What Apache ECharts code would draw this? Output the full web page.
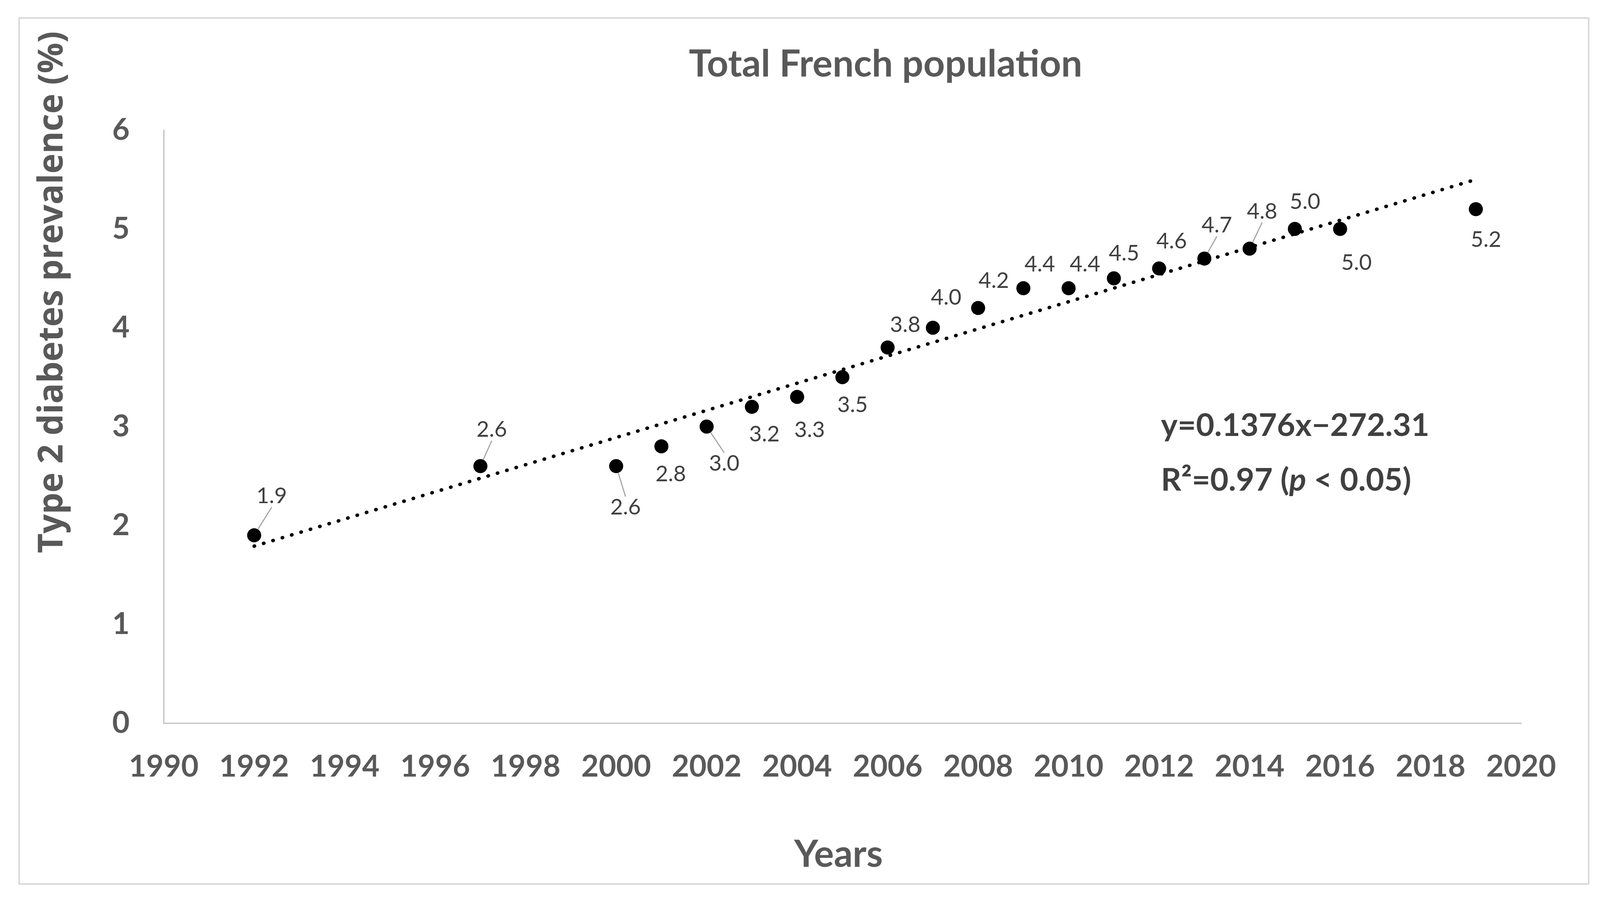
<!DOCTYPE html>
<html>
<head>
<meta charset="utf-8" />
<title>Total French population</title>
<script src="https://cdn.jsdelivr.net/npm/echarts@6/dist/echarts.min.js"></script>
<style>
  html, body { margin: 0; padding: 0; background: #ffffff; }
  #main { width: 4128px; height: 2309px; }
</style>
</head>
<body>
<div id="main"></div>
<script>
// data
var years = [1992, 1997, 2000, 2001, 2002, 2003, 2004, 2005, 2006, 2007,
             2008, 2009, 2010, 2011, 2012, 2013, 2014, 2015, 2016, 2019];
var prevalence = [1.9, 2.6, 2.6, 2.8, 3.0, 3.2, 3.3, 3.5, 3.8, 4.0,
                  4.2, 4.4, 4.4, 4.5, 4.6, 4.7, 4.8, 5.0, 5.0, 5.2];
// linear trend end points (y=0.1376x-272.31)
var trendYears = [1992, 2019];
var trendValues = [1.79, 5.50];
var equationText = 'y=0.1376x\u2212272.31';

// label placement (px from point centre), and which labels get a leader line
var labelShift = [
  [45, -100], [29, -93], [24, 106], [24, 71], [45, 95], [32, 71], [32, 85], [26, 71],
  [45, -58], [34, -77], [40, -69], [42, -61], [42, -61], [26, -64], [32, -69],
  [32, -85], [32, -95], [26, -69], [42, 87], [26, 79]
];
var leaderIdx = [0, 1, 2, 4, 15, 16];

var grey = '#595959';
var dark = '#404040';

var points = [];
for (var i = 0; i < years.length; i++) {
  var item = { value: [years[i], prevalence[i]] };
  if (leaderIdx.indexOf(i) >= 0) item.labelLine = { show: true };
  points.push(item);
}
var trend = [];
for (var j = 0; j < trendYears.length; j++) trend.push([trendYears[j], trendValues[j]]);

var chart = echarts.init(document.getElementById('main'));
chart.setOption({
  backgroundColor: '#ffffff',
  animation: false,
  title: {
    text: 'Total French population',
    left: 2262,
    top: 112,
    textAlign: 'center',
    textStyle: { fontFamily: 'Lato', fontWeight: 'bold', fontSize: 96, color: grey }
  },
  grid: { left: 419, right: 234, top: 333, bottom: 458 },
  xAxis: {
    type: 'value',
    min: 1990, max: 2020, interval: 2,
    name: 'Years',
    nameLocation: 'middle',
    nameGap: 290,
    nameTextStyle: { fontFamily: 'Lato', fontWeight: 'bold', fontSize: 95, color: grey, padding: [0, 20, 0, 0] },
    axisLine: { show: true, lineStyle: { color: '#bfbfbf', width: 3 } },
    axisTick: { show: false },
    splitLine: { show: false },
    axisLabel: {
      margin: 74, fontFamily: 'Lato', fontWeight: 'bold', fontSize: 77, color: grey,
      formatter: function (v) { return String(v); }
    }
  },
  yAxis: {
    type: 'value',
    min: 0, max: 6, interval: 1,
    axisLine: { show: true, lineStyle: { color: '#bfbfbf', width: 3 } },
    axisTick: { show: false },
    splitLine: { show: false },
    axisLabel: { margin: 87, fontFamily: 'Lato', fontWeight: 'bold', fontSize: 77, color: grey }
  },
  graphic: [
    {
      type: 'rect', z: -10, silent: true,
      shape: { x: 49, y: 46, width: 4018, height: 2217 },
      style: { fill: 'none', stroke: '#d9d9d9', lineWidth: 4 }
    },
    {
      type: 'text', x: 135, y: 748, rotation: Math.PI / 2,
      style: {
        text: 'Type 2 diabetes prevalence (%)',
        fontFamily: 'Open Sans', fontWeight: 'bold', fontSize: 87, fill: grey,
        align: 'center', verticalAlign: 'middle', textAlign: 'center', textVerticalAlign: 'middle'
      }
    },
    {
      type: 'text', x: 2972, y: 1090,
      style: {
        text: equationText,
        fontFamily: 'Lato', fontWeight: 'bold', fontSize: 81, fill: dark,
        align: 'left', verticalAlign: 'middle', textAlign: 'left', textVerticalAlign: 'middle'
      }
    },
    {
      type: 'text', x: 2972, y: 1230,
      style: {
        text: '{b|R\u00b2=0.97 (}{it|p}{b| < 0.05)}',
        fontFamily: 'Lato', fontWeight: 'bold', fontSize: 81, fill: dark,
        align: 'left', verticalAlign: 'middle', textAlign: 'left', textVerticalAlign: 'middle',
        rich: {
          b: { fontFamily: 'Lato', fontWeight: 'bold', fontSize: 81, fill: dark, color: dark },
          it: { fontFamily: 'Lato', fontWeight: 'bold', fontStyle: 'italic', fontSize: 81, fill: dark, color: dark }
        }
      }
    }
  ],
  series: [
    {
      name: 'Trend',
      type: 'line',
      data: trend,
      symbol: 'none',
      silent: true,
      z: 1,
      lineStyle: { color: '#000000', width: 9, type: [1, 24], cap: 'round' }
    },
    {
      name: 'Type 2 diabetes prevalence',
      type: 'scatter',
      data: points,
      symbol: 'circle',
      symbolSize: 36,
      z: 2,
      itemStyle: { color: '#000000', opacity: 1 },
      label: {
        show: true,
        position: 'inside',
        color: dark,
        fontFamily: 'Lato',
        fontSize: 56,
        formatter: function (p) { return p.value[1].toFixed(1); }
      },
      labelLayout: function (p) {
        var s = labelShift[p.dataIndex];
        return { dx: s[0], dy: s[1] };
      },
      labelLine: { show: false, lineStyle: { color: '#a6a6a6', width: 3 } }
    }
  ]
});
</script>
</body>
</html>
